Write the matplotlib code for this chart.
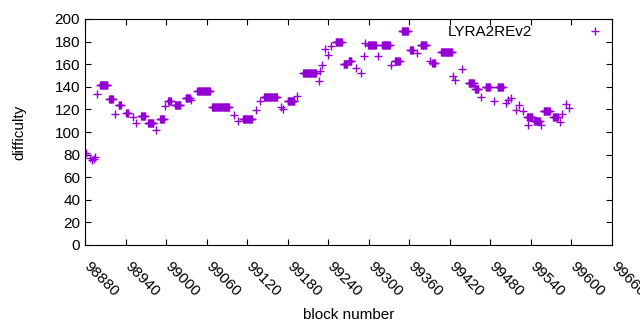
import matplotlib
matplotlib.use("Agg")
import matplotlib.pyplot as plt
import matplotlib.transforms as mtransforms
import numpy as np

# Runs of consecutive blocks sharing one difficulty value (start block, end block, value)
run_start = [98880, 98887, 98890, 98893, 98895, 98898, 98902, 98916, 98924, 98930,
             98941, 98951, 98955, 98963, 98973, 98985, 98991, 98998, 99003, 99013,
             99029, 99037, 99046, 99068, 99100, 99106, 99114, 99133, 99139, 99145,
             99170, 99173, 99180, 99194, 99203, 99226, 99228, 99231, 99235, 99240,
             99244, 99251, 99263, 99270, 99281, 99288, 99293, 99294, 99299, 99314,
             99320, 99333, 99339, 99349, 99361, 99371, 99377, 99391, 99394, 99407,
             99425, 99428, 99438, 99448, 99457, 99466, 99473, 99485, 99491, 99503,
             99506, 99511, 99518, 99522, 99528, 99534, 99536, 99545, 99555, 99559,
             99573, 99583, 99586, 99592, 99596]
run_end = [98881, 98887, 98890, 98893, 98895, 98898, 98913, 98921, 98924, 98933,
           98944, 98951, 98955, 98969, 98981, 98985, 98997, 98998, 99007, 99021,
           99035, 99037, 99065, 99093, 99100, 99106, 99127, 99133, 99139, 99164,
           99170, 99173, 99190, 99194, 99222, 99226, 99228, 99231, 99235, 99240,
           99244, 99260, 99268, 99274, 99281, 99288, 99293, 99294, 99310, 99314,
           99331, 99333, 99346, 99358, 99365, 99371, 99385, 99391, 99398, 99423,
           99425, 99428, 99438, 99456, 99462, 99466, 99479, 99485, 99498, 99503,
           99506, 99511, 99518, 99522, 99528, 99542, 99536, 99553, 99555, 99568,
           99580, 99583, 99586, 99592, 99596]
run_value = [81, 77, 75, 76, 78, 134, 142, 129, 116, 123.5,
             117, 113, 108, 114, 108, 102, 111.5, 123, 127, 123.5,
             130, 128, 136, 122.5, 115, 110, 111.5, 119.5, 127, 131,
             122, 120, 127, 132, 152, 145, 154, 159, 173.5, 168,
             176.5, 179.5, 160.5, 163, 156.5, 152, 167, 178.5, 177, 167,
             177, 159, 163, 189, 172.5, 170, 177, 163, 161, 171,
             149.5, 146, 156, 143, 138, 131, 139.5, 127.5, 139.5, 125.5,
             128, 130, 119.5, 123.5, 118.5, 113, 106, 110, 106.5, 119,
             113, 109, 116, 125, 121]

series_label = "LYRA2REv2"
x_ticks = list(range(98880, 99661, 60))
y_ticks = list(range(0, 201, 20))

blocks = []
difficulty = []
for s, e, v in zip(run_start, run_end, run_value):
    for b in range(s, e + 1):
        blocks.append(b)
        difficulty.append(v)

plt.rcParams['font.family'] = ['Liberation Sans', 'DejaVu Sans']
fig = plt.figure(figsize=(6.4, 3.3), dpi=100)
ax = fig.add_axes([85/640, 85/330, 527/640, 226/330])

color = '#9400D3'
ax.plot(blocks, difficulty, linestyle='none', marker='+', markersize=6,
        markeredgewidth=1.0, color=color, label=series_label)

ax.set_xlim(98880, 99660)
ax.set_ylim(0, 200)
ax.set_xticks(x_ticks)
ax.set_yticks(y_ticks)
ax.ticklabel_format(useOffset=False, style='plain')
ax.tick_params(direction='in', length=4, width=0.8, top=True, right=True,
               labelsize=11, colors='black')
ax.tick_params(axis='x', pad=7)
offset = mtransforms.ScaledTranslation(6/100, -4/100, fig.dpi_scale_trans)
for lbl in ax.get_xticklabels():
    lbl.set_rotation(-45)
    lbl.set_ha('left')
    lbl.set_va('top')
    lbl.set_rotation_mode('anchor')
    lbl.set_transform(lbl.get_transform() + offset)
for sp in ax.spines.values():
    sp.set_linewidth(0.8)

ax.set_xlabel('block number', fontsize=11, labelpad=7)
ax.set_ylabel('difficulty', fontsize=11, labelpad=20)

ax.legend(loc='upper right', markerfirst=False, frameon=False, fontsize=11,
          handlelength=1.45, handletextpad=3.35, borderpad=0.0, borderaxespad=0.4,
          markerscale=1.0)

fig.savefig('out.png', dpi=100)
